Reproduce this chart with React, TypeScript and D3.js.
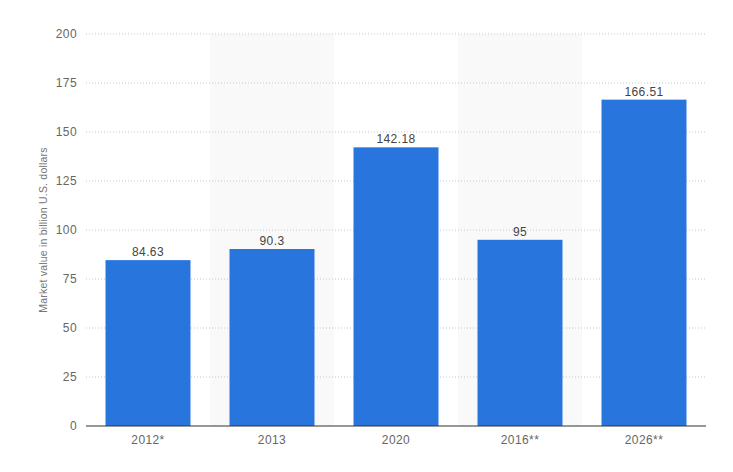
import React from "react";
import * as d3 from "d3";

const categories = ["2012*", "2013", "2020", "2016**", "2026**"];
const values = [84.63, 90.3, 142.18, 95, 166.51];
const valueLabels = ["84.63", "90.3", "142.18", "95", "166.51"];
const yTicks = [0, 25, 50, 75, 100, 125, 150, 175, 200];
const yAxisTitle = "Market value in billion U.S. dollars";

export default function App() {
  const width = 733;
  const height = 472;
  const left = 86;
  const right = 706;
  const top = 34;
  const bottom = 426;
  const x = d3.scaleBand<string>().domain(categories).range([left, right]).paddingInner(0).paddingOuter(0);
  const y = d3.scaleLinear().domain([0, 200]).range([bottom, top]);
  const bw = x.bandwidth();
  const barW = 85;
  const font = "'Liberation Sans', Arial, sans-serif";
  return (
    <svg width={width} height={height} style={{ position: "absolute", left: 0, top: 0, background: "#fff" }} fontFamily={font}>
      {categories.map((c, i) =>
        i % 2 === 1 ? (
          <rect key={"b" + c} x={x(c)} y={top} width={bw} height={bottom - top} fill="#f9f9f9" />
        ) : null
      )}
      {yTicks.map((t) => (
        <g key={"t" + t}>
          {t > 0 && (
            <line x1={left} x2={right} y1={y(t)} y2={y(t)} stroke="#c8c8c8" strokeWidth={1} strokeDasharray="1,2" />
          )}
          <text x={left - 9} y={y(t)} dy="0.35em" textAnchor="end" fontSize={12} fill="#666" letterSpacing={0.4}>
            {t}
          </text>
        </g>
      ))}
      {categories.map((c, i) => {
        const cx = (x(c) as number) + bw / 2;
        return (
          <g key={"bar" + c}>
            <rect x={cx - barW / 2} y={y(values[i])} width={barW} height={bottom - y(values[i])} fill="#2876dd" />
            <text x={cx} y={y(values[i]) - 4} textAnchor="middle" fontSize={12} fill="#444" letterSpacing={0.4}>
              {valueLabels[i]}
            </text>
            <text x={cx} y={bottom + 18} textAnchor="middle" fontSize={12} fill="#666" letterSpacing={0.4}>
              {c}
            </text>
          </g>
        );
      })}
      <line x1={left} x2={right} y1={bottom} y2={bottom} stroke="#333" strokeWidth={1.2} />
      <text
        transform={`translate(47,${(top + bottom) / 2}) rotate(-90)`}
        textAnchor="middle"
        fontSize={10.5}
        fill="#777"
        letterSpacing={0.2}
      >
        {yAxisTitle}
      </text>
    </svg>
  );
}
